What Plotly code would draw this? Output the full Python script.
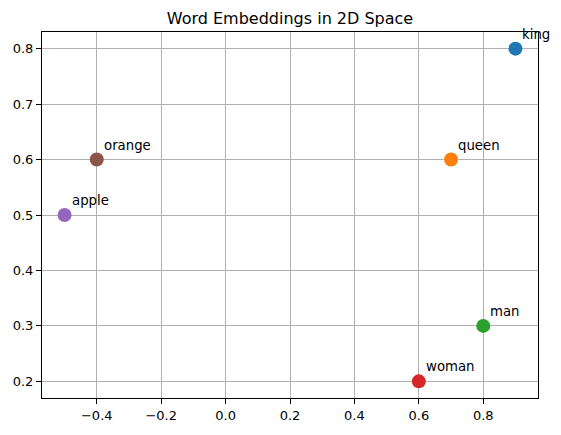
import plotly.graph_objects as go

words = ["king", "queen", "man", "woman", "apple", "orange"]
xs = [0.9, 0.7, 0.8, 0.6, -0.5, -0.4]
ys = [0.8, 0.6, 0.3, 0.2, 0.5, 0.6]
colors = ["#1f77b4", "#ff7f0e", "#2ca02c", "#d62728", "#9467bd", "#8c564b"]
xticks = [-0.4, -0.2, 0.0, 0.2, 0.4, 0.6, 0.8]
yticks = [0.2, 0.3, 0.4, 0.5, 0.6, 0.7, 0.8]

fig = go.Figure()
for w, x, y, c in zip(words, xs, ys, colors):
    fig.add_trace(go.Scatter(x=[x], y=[y], mode="markers", name=w,
                             marker=dict(color=c, size=14, line=dict(width=0))))
    fig.add_annotation(x=x, y=y, text=w, showarrow=False, xanchor="left", yanchor="bottom",
                       xshift=6, yshift=6, borderpad=0,
                       font=dict(family="DejaVu Sans", size=13.3, color="black"))

def fmt(v):
    s = f"{v:.1f}"
    return s.replace("-", "\u2212")

axis_common = dict(showline=True, linecolor="black", linewidth=1, mirror=True,
                   ticks="outside", ticklen=5, tickcolor="black", tickwidth=1,
                   showgrid=True, gridcolor="#b0b0b0", gridwidth=1, zeroline=False,
                   tickfont=dict(family="DejaVu Sans", size=13, color="black"))

fig.update_xaxes(range=[-0.57, 0.97], tickvals=xticks, ticktext=[fmt(v) for v in xticks], **axis_common)
fig.update_yaxes(range=[0.17, 0.83], tickvals=yticks, ticktext=[fmt(v) for v in yticks], **axis_common)

fig.update_layout(
    width=561, height=435,
    margin=dict(l=42, r=23, t=32, b=34),
    plot_bgcolor="white", paper_bgcolor="white",
    showlegend=False,
    title=dict(text="Word Embeddings in 2D Space", x=290/561, xanchor="center",
               y=1 - 18/435, yanchor="middle",
               font=dict(family="DejaVu Sans", size=16, color="black")),
)
fig.write_html("out.html")
